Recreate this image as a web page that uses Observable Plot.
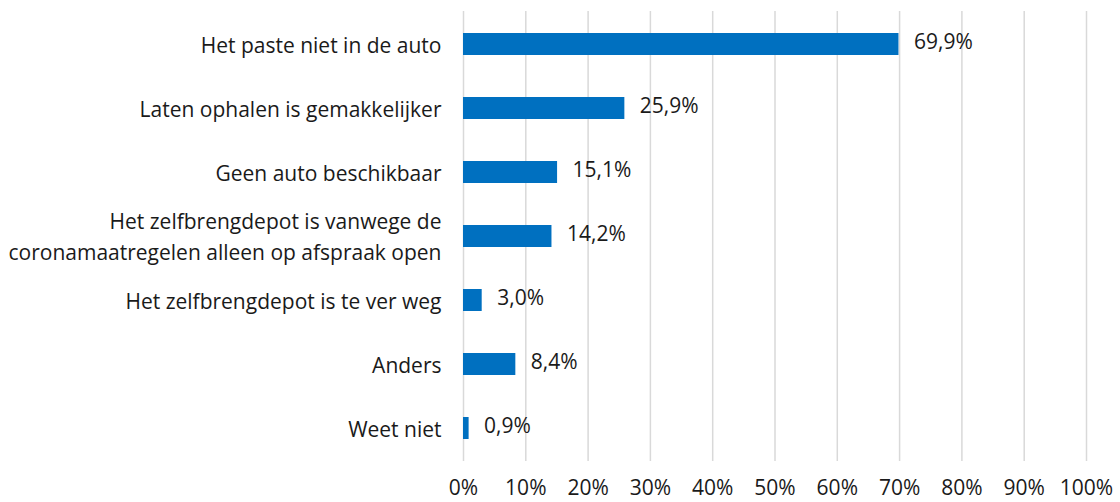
<!DOCTYPE html>
<html><head><meta charset="utf-8">
<script src="https://cdn.jsdelivr.net/npm/d3@7"></script>
<script src="https://cdn.jsdelivr.net/npm/@observablehq/plot@0.6"></script>
<style>body{margin:0;background:#fff}</style>
</head><body><div id="chart"></div>
<script>
const categories = [
  "Het paste niet in de auto",
  "Laten ophalen is gemakkelijker",
  "Geen auto beschikbaar",
  "Het zelfbrengdepot is vanwege de\ncoronamaatregelen alleen op afspraak open",
  "Het zelfbrengdepot is te ver weg",
  "Anders",
  "Weet niet"
];
const values = [69.9, 25.9, 15.1, 14.2, 3.0, 8.4, 0.9];
const xTicks = [0,10,20,30,40,50,60,70,80,90,100];

const data = categories.map((c,i)=>({cat:c, v:values[i]}));
const fmt = v => v.toFixed(1).replace(".", ",") + "%";
const font = "'Open Sans', Lato, sans-serif";
const fs = 21;

const chart = Plot.plot({
  width: 1120, height: 502,
  marginLeft: 463, marginRight: 34, marginTop: 11, marginBottom: 41,
  style: {fontFamily: font, fontSize: fs + "px", color: "#1a1a1a", background: "#fff"},
  x: {domain: [0,100], ticks: xTicks, tickFormat: d => d + "%", label: null},
  y: {domain: categories, paddingInner: 0.657, paddingOuter: 0.3285, label: null, axis: null},
  marks: [
    Plot.ruleX(xTicks, {stroke: "#d9d9d9", strokeWidth: 1.5}),
    Plot.axisX({ticks: xTicks, tickFormat: d => d + "%", tickSize: 0, tickPadding: 19, fontSize: fs, fill: "#1a1a1a", label: null}),
    Plot.barX(data, {x: "v", y: "cat", fill: "#0070C0"}),
    Plot.text(data, {x: "v", y: "cat", text: d => fmt(d.v), textAnchor: "start", dx: 15, dy: -2, fontSize: fs, fill: "#1a1a1a"}),
    Plot.text(data, {x: 0, y: "cat", text: "cat", textAnchor: "end", dx: -22, dy: -2, fontSize: fs, fill: "#1a1a1a", lineHeight: 1.5})
  ]
});
document.getElementById("chart").appendChild(chart);
</script></body></html>
